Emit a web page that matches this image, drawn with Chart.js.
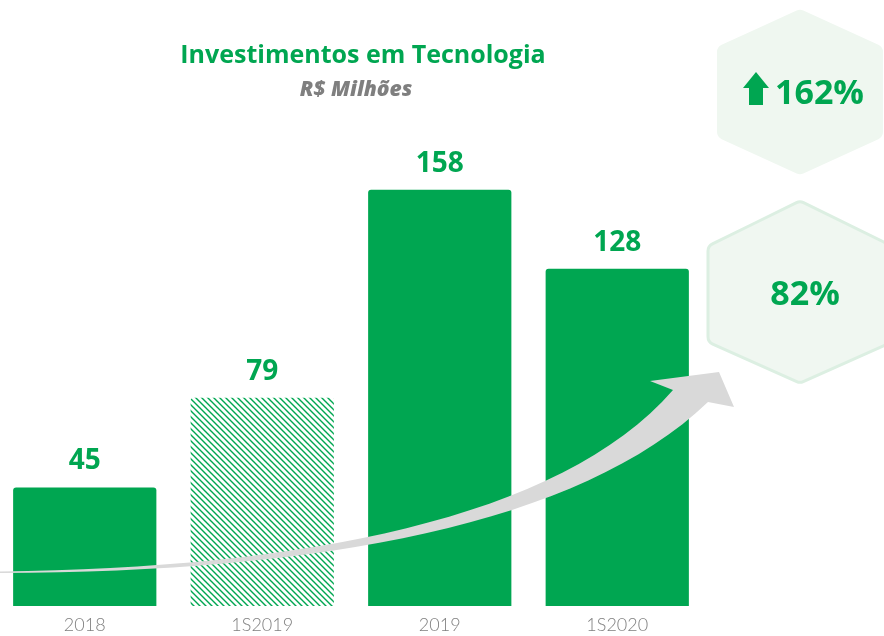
<!DOCTYPE html>
<html><head><meta charset="utf-8">
<script src="https://cdn.jsdelivr.net/npm/chart.js@4/dist/chart.umd.min.js"></script>
<style>
html,body{margin:0;padding:0;background:#fff;overflow:hidden}
#wrap{position:relative;width:884px;height:636px;overflow:hidden}
#c{position:absolute;left:-4px;top:0}
</style></head>
<body><div id="wrap"><canvas id="c" width="888" height="636"></canvas></div>
<script>
const categories = ['2018', '1S2019', '2019', '1S2020'];
const investimentos = [45, 79, 158, 128];
const crescimento = ['162%', '82%'];
const titulo = 'Investimentos em Tecnologia';
const subtitulo = 'R$ Milhões';

const GREEN = '#00a651';
const FONT = '"Open Sans", Lato, sans-serif';

function hatch() {
  const s = 6, c = document.createElement('canvas');
  c.width = s; c.height = s;
  const x = c.getContext('2d');
  x.strokeStyle = GREEN; x.lineWidth = 1.4;
  x.beginPath();
  x.moveTo(-2, -2); x.lineTo(s + 2, s + 2);
  x.moveTo(-2, s - 2); x.lineTo(2, s + 2);
  x.moveTo(s - 2, -2); x.lineTo(s + 2, 2);
  x.stroke();
  return x.createPattern(c, 'repeat');
}
const pat = hatch();

function roundedPoly(ctx, pts, r) {
  ctx.beginPath();
  const n = pts.length;
  for (let i = 0; i < n; i++) {
    const p0 = pts[(i + n - 1) % n], p1 = pts[i], p2 = pts[(i + 1) % n];
    const mx = (p0[0] + p1[0]) / 2, my = (p0[1] + p1[1]) / 2;
    if (i === 0) ctx.moveTo(mx, my);
    ctx.arcTo(p1[0], p1[1], p2[0], p2[1], r);
  }
  ctx.closePath();
}

const deco = {
  id: 'deco',
  afterDatasetsDraw(chart) {
    const ctx = chart.ctx;
    ctx.save();
    ctx.translate(4, 0);
    // curved growth arrow
    ctx.fillStyle = '#d9d9d9';
    ctx.beginPath();
    ctx.moveTo(0, 571.5);
    ctx.bezierCurveTo(300, 568, 560, 520, 673, 390);
    ctx.lineTo(650, 381);
    ctx.lineTo(719, 372);
    ctx.lineTo(734, 407);
    ctx.lineTo(708, 402);
    ctx.bezierCurveTo(580, 525, 320, 572, 0, 573);
    ctx.closePath();
    ctx.fill();
    // hexagons
    ctx.fillStyle = '#eff7f0';
    roundedPoly(ctx, [[800, 9], [883, 47], [883, 137], [800, 175], [717, 137], [717, 47]], 8);
    ctx.fill();
    ctx.fillStyle = '#f0f7f1';
    ctx.strokeStyle = '#dcefe2';
    ctx.lineWidth = 3;
    roundedPoly(ctx, [[800, 201], [892, 246], [892, 342], [800, 383], [708, 342], [708, 246]], 8);
    ctx.fill(); ctx.stroke();
    // up arrow icon
    ctx.fillStyle = GREEN;
    ctx.beginPath();
    ctx.moveTo(756, 72); ctx.lineTo(769, 88); ctx.lineTo(763, 88); ctx.lineTo(763, 105);
    ctx.lineTo(749, 105); ctx.lineTo(749, 88); ctx.lineTo(743, 88); ctx.closePath();
    ctx.fill();
    // texts
    ctx.fillStyle = GREEN;
    ctx.font = 'bold 34px ' + FONT;
    ctx.textBaseline = 'alphabetic';
    ctx.textAlign = 'left';
    ctx.fillText(crescimento[0], 775, 104);
    ctx.textAlign = 'center';
    ctx.fillText(crescimento[1], 805, 305);
    // title
    ctx.font = 'bold 25px ' + FONT;
    ctx.fillText(titulo, 363, 63);
    ctx.fillStyle = '#7f7f7f';
    ctx.font = 'italic 800 21px ' + FONT;
    ctx.fillText(subtitulo, 356, 96);
    ctx.restore();
    // value labels
    const meta = chart.getDatasetMeta(0);
    ctx.save();
    ctx.fillStyle = GREEN;
    ctx.font = 'bold 28px ' + FONT;
    ctx.textAlign = 'center';
    ctx.textBaseline = 'alphabetic';
    meta.data.forEach((bar, i) => {
      ctx.fillText(String(investimentos[i]), bar.x, bar.y - 18);
    });
    ctx.restore();
  }
};

new Chart(document.getElementById('c'), {
  type: 'bar',
  data: {
    labels: categories,
    datasets: [{
      data: investimentos,
      backgroundColor: [GREEN, pat, GREEN, GREEN],
      borderRadius: { topLeft: 3, topRight: 3, bottomLeft: 0, bottomRight: 0 },
      borderSkipped: 'bottom',
      barPercentage: 0.807,
      categoryPercentage: 1
    }]
  },
  options: {
    responsive: false,
    animation: false,
    layout: { padding: { left: 0, right: 178, top: 79, bottom: 0 } },
    plugins: { legend: { display: false }, tooltip: { enabled: false }, title: { display: false } },
    scales: {
      x: {
        grid: { display: false, drawTicks: false },
        border: { display: false },
        ticks: { color: '#7f7f7f', font: { family: 'Lato, sans-serif', size: 18, weight: '300' }, padding: 8 },
        afterFit(s) { s.height = 30; }
      },
      y: { display: false, min: 0, max: 200 }
    }
  },
  plugins: [deco]
});
</script></body></html>
